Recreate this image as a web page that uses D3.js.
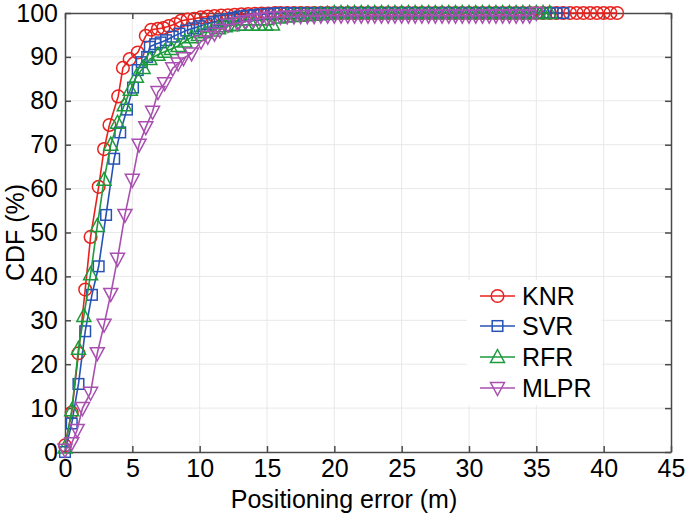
<!DOCTYPE html>
<html>
<head>
<meta charset="utf-8">
<script src="https://cdn.jsdelivr.net/npm/d3@7/dist/d3.min.js"></script>
<style>
html,body{margin:0;padding:0;background:#fff;}
svg text{font-family:"Liberation Sans",Arial,Helvetica,sans-serif;fill:#000;}
</style>
</head>
<body>
<svg id="chart" width="685" height="517"></svg>
<script>
// ---- data ----
const xTicks = [0,5,10,15,20,25,30,35,40,45];
const yTicks = [0,10,20,30,40,50,60,70,80,90,100];
const seriesNames = ["KNR","SVR","RFR","MLPR"];

const knrX = [0,0.5,1,1.5,1.9,2.5,2.9,3.3,3.95,4.3,4.8,5.4,6,6.4,6.9,7.3,7.7,8.2,8.6,9.1,9.6,10.1,10.6,11.1,11.6,12.1,12.6,13.1,13.6,14.1,14.6,15.1,15.6,
  16,16.5,17,17.5,18,18.5,19,19.5,20,20.5,21,21.5,22,22.5,23,23.5,24,24.5,25,25.5,26,26.5,27,27.5,28,28.5,29,29.5,30,30.5,31,31.5,32,32.5,33,33.5,34,34.5,35,35.5,36,36.5,37,37.5,38,38.5,39,39.5,40,40.5,41];
const knrY = [1.5,9,22.5,37,49,60.4,69,74.5,81,87.5,89.5,91,94.8,96.2,96.4,96.6,97,97.5,98.2,98.5,98.7,99,99.2,99.3,99.4,99.5,99.6,99.7,99.75,99.8,99.85,99.9,100,
  100,100,100,100,100,100,100,100,100,100,100,100,100,100,100,100,100,100,100,100,100,100,100,100,100,100,100,100,100,100,100,100,100,100,100,100,100,100,100,100,100,100,100,100,100,100,100,100,100,100,100,100,100];

const svrX = [0,0.5,1,1.5,2,2.5,3.05,3.65,4.1,4.6,5.05,5.4,5.7,6.1,6.3,6.7,7.1,7.5,8,8.5,9,9.5,10,10.5,11,11.5,12,12.5,13,13.5,14,14.5,15,15.5,
  16,16.5,17,17.5,18,18.5,19,19.5,20,20.5,21,21.5,22,22.5,23,23.5,24,24.5,25,25.5,26,26.5,27,27.5,28,28.5,29,29.5,30,30.5,31,31.5,32,32.5,33,33.5,34,34.5,35,35.5,36,36.5,37];
const svrY = [0,6.5,15.5,27.5,35.8,42.3,54,66.8,72.8,78,83,87,88.8,90,92.3,92.9,93.3,93.8,94.6,95.3,96,96.5,97,97.5,97.9,98.3,98.6,98.9,99.2,99.4,99.5,99.7,99.8,99.9,
  100,100,100,100,100,100,100,100,100,100,100,100,100,100,100,100,100,100,100,100,100,100,100,100,100,100,100,100,100,100,100,100,100,100,100,100,100,100,100,100,100,100,100];

const rfrX = [0,0.5,1,1.4,1.9,2.4,2.9,3.4,3.9,4.4,4.85,5.3,5.8,6.3,6.9,7.4,7.9,8.4,8.9,9.4,9.9,10.4,10.9,11.4,11.9,12.4,12.9,13.4,13.9,14.4,14.9,15.4,15.9,
  16.5,17,17.5,18,18.5,19,19.5,20,20.5,21,21.5,22,22.5,23,23.5,24,24.5,25,25.5,26,26.5,27,27.5,28,28.5,29,29.5,30,30.5,31,31.5,32,32.5,33,33.5,34,34.5,35,35.5,36];
const rfrY = [1,9.5,23.5,31,40.5,51.5,62,70,75,79,82.5,85.5,87.5,89.5,90.5,91.2,91.8,92.5,93.5,94.5,95,95.6,96,96.5,97,97.2,97.3,97.3,97.3,97.3,97.3,97.4,99,
  99.2,99.3,99.4,99.5,99.6,99.7,99.8,100,100,100,100,100,100,100,100,100,100,100,100,100,100,100,100,100,100,100,100,100,100,100,100,100,100,100,100,100,100,100,100,100,100,100];

const mlprX = [0,0.5,0.9,1.3,1.9,2.4,2.9,3.4,3.9,4.45,5,5.5,6,6.5,6.9,7.4,8,8.4,8.8,9.4,10.1,10.6,11.1,11.5,12.1,12.8,13.4,14,14.5,15,15.5,
  16,16.5,17,17.5,18,18.5,19,19.5,20,20.5,21,21.5,22,22.5,23,23.5,24,24.5,25,25.5,26,26.5,27,27.5,28,28.5,29,29.5,30,30.5,31,31.5,32,32.5,33,33.5,34,34.5,35];
const mlprY = [0.5,2,5,10,13.5,22.5,29,36,44,54,62,70,74,77.5,82,84,87.4,88.5,89.7,90.8,93.5,94.6,95.3,96.1,97.3,97.7,98.1,98.4,98.7,98.9,99,
  99.1,99.2,99.2,99.3,99.3,99.3,99.4,99.4,99.4,99.4,99.4,99.4,99.4,99.4,99.4,99.4,99.4,99.4,99.4,99.4,99.4,99.4,99.4,99.4,99.4,99.4,99.4,99.4,99.4,99.4,99.4,99.4,99.4,99.4,99.4,99.4,99.4,99.4,100];

const colors = ["#e8211d","#2753b5","#1d9a3c","#a94fb0"];
const markers = ["circle","square","triUp","triDown"];
const xsList = [knrX, svrX, rfrX, mlprX];
const ysList = [knrY, svrY, rfrY, mlprY];

// ---- layout ----
const L = 65, R = 671, T = 13, B = 452;
const FS = 25;
const svg = d3.select("#chart");
const x = d3.scaleLinear().domain([0,45]).range([L,R]);
const y = d3.scaleLinear().domain([0,100]).range([B,T]);

// grid
const grid = svg.append("g");
grid.selectAll("line.gx").data(xTicks.slice(1,-1)).enter().append("line")
  .attr("x1",d=>x(d)).attr("x2",d=>x(d)).attr("y1",T).attr("y2",B)
  .attr("stroke","#e8e8e8").attr("stroke-width",1);
grid.selectAll("line.gy").data(yTicks.slice(1,-1)).enter().append("line")
  .attr("x1",L).attr("x2",R).attr("y1",d=>y(d)).attr("y2",d=>y(d))
  .attr("stroke","#e8e8e8").attr("stroke-width",1);

// axes (ticks inward, box)
const axisColor = "#4a4a4a";
const xAxisB = d3.axisBottom(x).tickValues(xTicks).tickSizeInner(-6).tickSizeOuter(0).tickPadding(7);
const xAxisT = d3.axisTop(x).tickValues(xTicks).tickSizeInner(-6).tickSizeOuter(0).tickFormat("");
const yAxisL = d3.axisLeft(y).tickValues(yTicks).tickSizeInner(-6).tickSizeOuter(0).tickPadding(7);
const yAxisR = d3.axisRight(y).tickValues(yTicks).tickSizeInner(-6).tickSizeOuter(0).tickFormat("");

function styleAxis(g){
  g.select(".domain").attr("stroke",axisColor).attr("stroke-width",1.5);
  g.selectAll(".tick line").attr("stroke",axisColor).attr("stroke-width",1.5);
  g.selectAll(".tick text").attr("font-size",FS).attr("fill","#000")
    .attr("font-family","'Liberation Sans',Arial,sans-serif");
}
svg.append("g").attr("transform",`translate(0,${B})`).call(xAxisB).call(styleAxis);
svg.append("g").attr("transform",`translate(0,${T})`).call(xAxisT).call(styleAxis);
svg.append("g").attr("transform",`translate(${L},0)`).call(yAxisL).call(styleAxis);
svg.append("g").attr("transform",`translate(${R},0)`).call(yAxisR).call(styleAxis);

// marker drawing
function drawMarker(g, type, cx, cy, color){
  if(type==="circle"){
    g.append("circle").attr("cx",cx).attr("cy",cy).attr("r",6.3)
      .attr("fill","none").attr("stroke",color).attr("stroke-width",1.5);
  } else if(type==="square"){
    g.append("rect").attr("x",cx-5.3).attr("y",cy-5.3).attr("width",10.6).attr("height",10.6)
      .attr("fill","none").attr("stroke",color).attr("stroke-width",1.5);
  } else if(type==="triUp"){
    g.append("path").attr("d",`M${cx},${cy-7.5}L${cx+7},${cy+5.5}L${cx-7},${cy+5.5}Z`)
      .attr("fill","none").attr("stroke",color).attr("stroke-width",1.5);
  } else {
    g.append("path").attr("d",`M${cx},${cy+7.5}L${cx+7},${cy-5.5}L${cx-7},${cy-5.5}Z`)
      .attr("fill","none").attr("stroke",color).attr("stroke-width",1.5);
  }
}

const line = d3.line().x(d=>x(d[0])).y(d=>y(d[1]));
const plot = svg.append("g");
seriesNames.forEach((name,i)=>{
  const pts = xsList[i].map((v,j)=>[v, ysList[i][j]]);
  const g = plot.append("g");
  g.append("path").datum(pts).attr("d",line).attr("fill","none")
    .attr("stroke",colors[i]).attr("stroke-width",1.6);
  pts.forEach(p=>drawMarker(g, markers[i], x(p[0]), y(p[1]), colors[i]));
});

// axis labels
svg.append("text").attr("x",344).attr("y",508).attr("text-anchor","middle")
  .attr("font-size",FS).text("Positioning error (m)");
svg.append("text").attr("transform",`translate(24,${(T+B)/2}) rotate(-90)`)
  .attr("text-anchor","middle").attr("font-size",FS).text("CDF (%)");

// legend
const lg = svg.append("g");
lg.append("rect").attr("x",467).attr("y",280).attr("width",135).attr("height",125).attr("fill","#fff");
const rowY = [296,326,357,388];
seriesNames.forEach((name,i)=>{
  lg.append("line").attr("x1",480).attr("x2",515).attr("y1",rowY[i]).attr("y2",rowY[i])
    .attr("stroke",colors[i]).attr("stroke-width",1.5);
  drawMarker(lg, markers[i], 497.5, rowY[i], colors[i]);
  lg.append("text").attr("x",522).attr("y",rowY[i]).attr("dy","0.36em")
    .attr("font-size",FS).text(name);
});
</script>
</body>
</html>
